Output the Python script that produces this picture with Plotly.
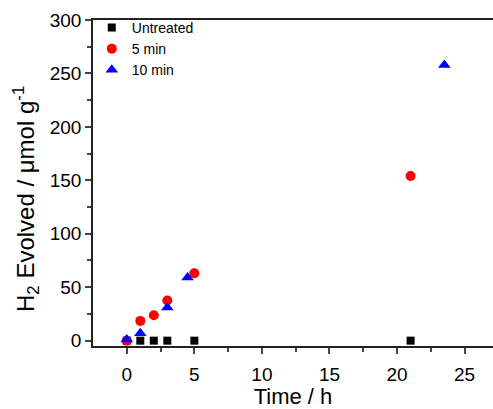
import plotly.graph_objects as go

untreated_t = [0, 1, 2, 3, 5, 21]
untreated_h2 = [0, 0, 0, 0, 0, 0]
min5_t = [0, 1, 2, 3, 5, 21]
min5_h2 = [0, 18.5, 23.8, 37.5, 63, 154]
min10_t = [0, 1, 3, 4.5, 23.5]
min10_h2 = [1, 7, 31, 59, 258]

fig = go.Figure()
fig.add_trace(go.Scatter(x=untreated_t, y=untreated_h2, mode="markers", name="Untreated",
                         marker=dict(symbol="square", size=8, color="black")))
fig.add_trace(go.Scatter(x=min5_t, y=min5_h2, mode="markers", name="5 min",
                         marker=dict(symbol="circle", size=10, color="#ff0000")))
fig.add_trace(go.Scatter(x=min10_t, y=min10_h2, mode="markers", name="10 min",
                         marker=dict(symbol="triangle-up", size=11, color="#0000ff")))

font = "Liberation Sans, Arial, sans-serif"
fig.update_layout(
    width=493, height=409,
    margin=dict(l=93, r=0, t=20, b=63, autoexpand=False),
    paper_bgcolor="white", plot_bgcolor="white",
    font=dict(family=font, color="black"),
    showlegend=True,
    legend=dict(x=-0.003, y=1.025, xanchor="left", yanchor="top", bgcolor="rgba(0,0,0,0)",
                font=dict(size=14), tracegroupgap=0),
    xaxis=dict(range=[-2.5, 27.1], tickvals=[0, 5, 10, 15, 20, 25], ticks="outside",
               ticklen=6, tickwidth=1.5, showgrid=False, zeroline=False, showline=True,
               linecolor="#222", linewidth=1.5, mirror=True, tickfont=dict(size=19),
               ticklabelstandoff=4, automargin=False,
               minor=dict(tickvals=[2.5, 7.5, 12.5, 17.5, 22.5], ticks="outside", ticklen=4, tickwidth=1.5),
               title=dict(text="Time / h", font=dict(size=22), standoff=14)),
    yaxis=dict(range=[-5, 300], tickvals=[0, 50, 100, 150, 200, 250, 300], ticks="outside",
               ticklen=6, tickwidth=1.5, showgrid=False, zeroline=False, showline=True,
               linecolor="#222", linewidth=1.5, mirror=False, tickfont=dict(size=19),
               automargin=False,
               minor=dict(tickvals=[25, 75, 125, 175, 225, 275], ticks="outside", ticklen=4, tickwidth=1.5)),
    annotations=[dict(text="H<sub>2</sub> Evolved / μmol g<sup>-1</sup>", textangle=-90,
                      xref="paper", yref="paper", x=-0.1675, y=0.451,
                      xanchor="center", yanchor="middle", showarrow=False,
                      font=dict(size=24, family=font, color="black"))],
)
fig.write_html("out.html")
